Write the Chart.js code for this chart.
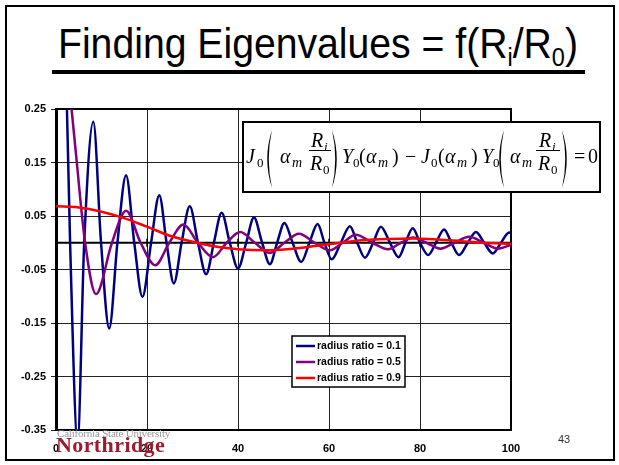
<!DOCTYPE html>
<html>
<head>
<meta charset="utf-8">
<script src="https://cdn.jsdelivr.net/npm/chart.js@4"></script>
<style>
  html, body { margin: 0; padding: 0; background: #fff; }
  #slide { position: relative; width: 619px; height: 465px; overflow: hidden; font-family: "Liberation Sans", Arial, sans-serif; }
  #frame { position: absolute; left: 5px; top: 5px; width: 606px; height: 452px; border: 2px solid #000; }
  #title { position: absolute; left: 58px; top: 22px; font-size: 43px; line-height: 1; white-space: nowrap; transform-origin: left top; color: #000; }
  #title sub { font-size: 0.6em; vertical-align: -0.3em; line-height: 0; }
  #rule { position: absolute; left: 52px; top: 70px; width: 533px; height: 4px; background: #000; }
  #chart { position: absolute; left: 0; top: 0; }
  #csun1 { position: absolute; left: 57px; top: 428px; font: 11px "Liberation Serif", serif; color: #999; line-height: 1; white-space: nowrap; z-index: 2; letter-spacing: -0.2px; }
  #csun2 { position: absolute; left: 56px; top: 434px; font: bold 22px "Liberation Serif", serif; color: #9b1c31; line-height: 1; white-space: nowrap; z-index: 2; letter-spacing: 0.4px; }
  #pageno { position: absolute; left: 558px; top: 434px; font-size: 11px; color: #333; line-height: 1; z-index: 2; }
</style>
</head>
<body>
<div id="slide">
  <div id="frame"></div>
  <div id="title">Finding Eigenvalues = f(R<sub>i</sub>/R<sub>0</sub>)</div>
  <div id="rule"></div>
  <canvas id="chart" width="619" height="465"></canvas>
  <div id="csun1">California State University</div>
  <div id="csun2">Northridge</div>
  <div id="pageno">43</div>
</div>
<script>
// values, x = alpha, y = f(alpha)
const ratio01X = [1.6, 3.1, 4.75, 6.2, 8.2, 9.9, 11.7, 13.5, 15.4, 17.2, 19.0, 20.9, 22.7, 24.3, 25.9, 27.6,
    29.4, 31.2, 33.0, 34.7, 36.4, 38.2, 40.0, 41.8, 43.5, 45.3, 47.0, 48.6, 50.2, 52.0, 53.9, 55.7,
    57.5, 59.0, 60.6, 62.6, 64.6, 66.2, 67.9, 69.7, 71.4, 73.4, 75.3, 76.8, 78.4, 80.0, 81.8, 83.5,
    85.3, 86.9, 88.6, 90.5, 92.3, 94.1, 96.0, 97.8, 99.6, 100];
const ratio01Y = [0.55, 0, -0.37, 0, 0.226, 0, -0.160, 0, 0.126, 0, -0.101, 0, 0.089, 0, -0.076, 0,
    0.068, 0, -0.059, 0, 0.056, 0, -0.048, 0, 0.047, 0, -0.040, 0, 0.037, 0, -0.036, 0,
    0.035, 0, -0.031, 0, 0.031, 0, -0.028, 0, 0.030, 0, -0.027, 0, 0.027, 0, -0.023, 0,
    0.025, 0, -0.023, 0, 0.020, 0, -0.020, 0, 0.019, 0.018];

const ratio05X = [2.5, 4.4, 6.4, 8.8, 12.3, 15.4, 18.6, 21.8, 24.9, 28.0, 31.2, 34.5, 37.5, 40.5, 43.7, 47.0,
    50.2, 53.4, 56.8, 60.2, 63.0, 65.9, 69.5, 73.0, 75.8, 78.5, 81.4, 84.5, 87.6, 90.8, 94.0, 97.1, 100];
const ratio05Y = [0.33, 0.165, 0, -0.096, 0, 0.060, 0, -0.042, 0, 0.034, 0, -0.027, 0, 0.020, 0, -0.019,
    0, 0.017, 0, -0.014, 0, 0.015, 0, -0.012, 0, 0.010, 0, -0.011, 0, 0.011, 0, -0.011, -0.004];

const ratio09X = [0, 5, 10, 15, 20, 25, 31, 35, 40, 46, 52, 57, 62.5, 68, 73, 78.5, 84, 89, 94, 100];
const ratio09Y = [0.068, 0.066, 0.058, 0.046, 0.030, 0.013, 0, -0.007, -0.012, -0.014, -0.011, -0.006,
    0, 0.005, 0.007, 0.008, 0.006, 0.003, 0, -0.002];

const seriesLabels = ['radius ratio = 0.1', 'radius ratio = 0.5', 'radius ratio = 0.9'];
const seriesColors = ['#000080', '#800080', '#ff0000'];
const xTicks = [0, 20, 40, 60, 80, 100];
const yTicks = [-0.35, -0.25, -0.15, -0.05, 0.05, 0.15, 0.25];

function toPoints(xs, ys) {
    return xs.map((x, i) => ({ x: x, y: ys[i] }));
}

// fit the title to its width on the slide
const title = document.getElementById('title');
title.style.transform = `scaleX(${520 / title.scrollWidth})`;

function drawParen(ctx, x, top, bottom, open) {
    const h = bottom - top, w = 7;
    ctx.beginPath();
    if (open) {
        ctx.moveTo(x + w, top);
        ctx.quadraticCurveTo(x - 2.5, top + h / 2, x + w, bottom);
        ctx.quadraticCurveTo(x + 0.5, top + h / 2, x + w, top);
    } else {
        ctx.moveTo(x, top);
        ctx.quadraticCurveTo(x + w + 2.5, top + h / 2, x, bottom);
        ctx.quadraticCurveTo(x + w - 0.5, top + h / 2, x, top);
    }
    ctx.fill();
}

// text, x, baseline, size, italic
const eqParts = [
    ['J', 246, 163, 20, true], ['0', 257, 167, 13, false],
    ['\u03b1', 280, 163, 20, true], ['m', 292, 167, 14, true],
    ['R', 311, 147, 20, true], ['i', 324, 151, 13, true],
    ['R', 310, 170, 20, true], ['0', 323, 174, 13, false],
    ['Y', 342, 163, 20, true], ['0', 353, 167, 13, false],
    ['(', 359, 163, 20, false], ['\u03b1', 366, 163, 20, true], ['m', 378, 167, 14, true], [')', 392, 163, 20, false],
    ['\u2212', 405, 163, 20, false],
    ['J', 421, 163, 20, true], ['0', 431, 167, 13, false],
    ['(', 438, 163, 20, false], ['\u03b1', 445, 163, 20, true], ['m', 457, 167, 14, true], [')', 471, 163, 20, false],
    ['Y', 482, 163, 20, true], ['0', 493, 167, 13, false],
    ['\u03b1', 510, 163, 20, true], ['m', 522, 167, 14, true],
    ['R', 539, 147, 20, true], ['i', 552, 151, 13, true],
    ['R', 538, 170, 20, true], ['0', 551, 174, 13, false],
    ['=', 574, 163, 20, false], ['0', 588, 163, 20, false]
];

const slidePlugin = {
    id: 'slidePlugin',
    beforeDatasetsDraw(chart) {
        const ctx = chart.ctx;
        const a = chart.chartArea;
        const y0 = chart.scales.y.getPixelForValue(0);
        ctx.save();
        ctx.strokeStyle = '#000';
        ctx.lineWidth = 2;
        ctx.beginPath();
        ctx.moveTo(a.left, a.top);
        ctx.lineTo(a.right, a.top);
        ctx.lineTo(a.right, a.bottom);
        ctx.stroke();
        // x axis crossing at zero
        ctx.beginPath();
        ctx.moveTo(a.left, y0);
        ctx.lineTo(a.right, y0);
        ctx.stroke();
        ctx.lineWidth = 1.5;
        xTicks.forEach(v => {
            const px = chart.scales.x.getPixelForValue(v);
            ctx.beginPath();
            ctx.moveTo(px, y0 - 4);
            ctx.lineTo(px, y0 + 4);
            ctx.stroke();
        });
        ctx.restore();
    },
    afterDraw(chart) {
        const ctx = chart.ctx;
        ctx.save();
        // equation box
        ctx.fillStyle = '#fff';
        ctx.fillRect(243, 122, 357, 70);
        ctx.strokeStyle = '#000';
        ctx.lineWidth = 2;
        ctx.strokeRect(243, 122, 357, 70);
        ctx.fillStyle = '#000';
        ctx.textBaseline = 'alphabetic';
        eqParts.forEach(p => {
            ctx.font = (p[4] ? 'italic ' : '') + p[3] + 'px "Liberation Serif"';
            ctx.fillText(p[0], p[1], p[2]);
        });
        ctx.lineWidth = 1;
        ctx.beginPath();
        ctx.moveTo(309, 150.5); ctx.lineTo(331, 150.5);
        ctx.moveTo(536, 150.5); ctx.lineTo(560, 150.5);
        ctx.stroke();
        drawParen(ctx, 265, 130, 188, true);
        drawParen(ctx, 332, 130, 188, false);
        drawParen(ctx, 497, 130, 188, true);
        drawParen(ctx, 562, 130, 188, false);

        // legend
        ctx.fillStyle = '#fff';
        ctx.fillRect(292, 336, 113, 51);
        ctx.strokeStyle = '#000';
        ctx.lineWidth = 1.5;
        ctx.strokeRect(292, 336, 113, 51);
        ctx.font = 'bold 10.5px "Liberation Sans"';
        ctx.textBaseline = 'middle';
        chart.data.datasets.forEach((ds, i) => {
            const y = 346 + i * 16;
            ctx.strokeStyle = ds.borderColor;
            ctx.lineWidth = 2.5;
            ctx.beginPath();
            ctx.moveTo(296, y);
            ctx.lineTo(315, y);
            ctx.stroke();
            ctx.fillStyle = '#000';
            ctx.fillText(ds.label, 317, y);
        });
        ctx.restore();
    }
};

const ctx = document.getElementById('chart').getContext('2d');
const chart = new Chart(ctx, {
    type: 'line',
    data: {
        datasets: [
            { label: seriesLabels[0], data: toPoints(ratio01X, ratio01Y), borderColor: seriesColors[0], order: 2 },
            { label: seriesLabels[1], data: toPoints(ratio05X, ratio05Y), borderColor: seriesColors[1], order: 1 },
            { label: seriesLabels[2], data: toPoints(ratio09X, ratio09Y), borderColor: seriesColors[2], order: 0 }
        ]
    },
    options: {
        responsive: false,
        devicePixelRatio: 1,
        animation: false,
        layout: { padding: { top: 109, right: 108, left: 0, bottom: 0 } },
        datasets: {
            line: {
                borderWidth: 2.5,
                pointRadius: 0,
                fill: false,
                cubicInterpolationMode: 'monotone',
                clip: 0
            }
        },
        plugins: {
            legend: { display: false },
            tooltip: { enabled: false }
        },
        scales: {
            x: {
                type: 'linear',
                min: 0,
                max: 100,
                afterBuildTicks: s => { s.ticks = xTicks.map(v => ({ value: v })); },
                afterFit: s => { s.height = 35; },
                ticks: {
                    color: '#000',
                    font: { family: 'Liberation Sans', size: 11, weight: 'bold' },
                    padding: 12,
                    maxRotation: 0
                },
                grid: { color: '#222', lineWidth: 1, drawTicks: false },
                border: { display: true, color: '#000', width: 2 }
            },
            y: {
                type: 'linear',
                min: -0.35,
                max: 0.25,
                afterBuildTicks: s => { s.ticks = yTicks.map(v => ({ value: v })); },
                afterFit: s => { s.width = 56; },
                ticks: {
                    color: '#000',
                    font: { family: 'Liberation Sans', size: 11, weight: 'bold' },
                    padding: 5,
                    callback: v => v.toFixed(2)
                },
                grid: { color: '#222', lineWidth: 1, tickLength: 5 },
                border: { display: true, color: '#000', width: 3 }
            }
        }
    },
    plugins: [slidePlugin]
});
</script>
</body>
</html>
